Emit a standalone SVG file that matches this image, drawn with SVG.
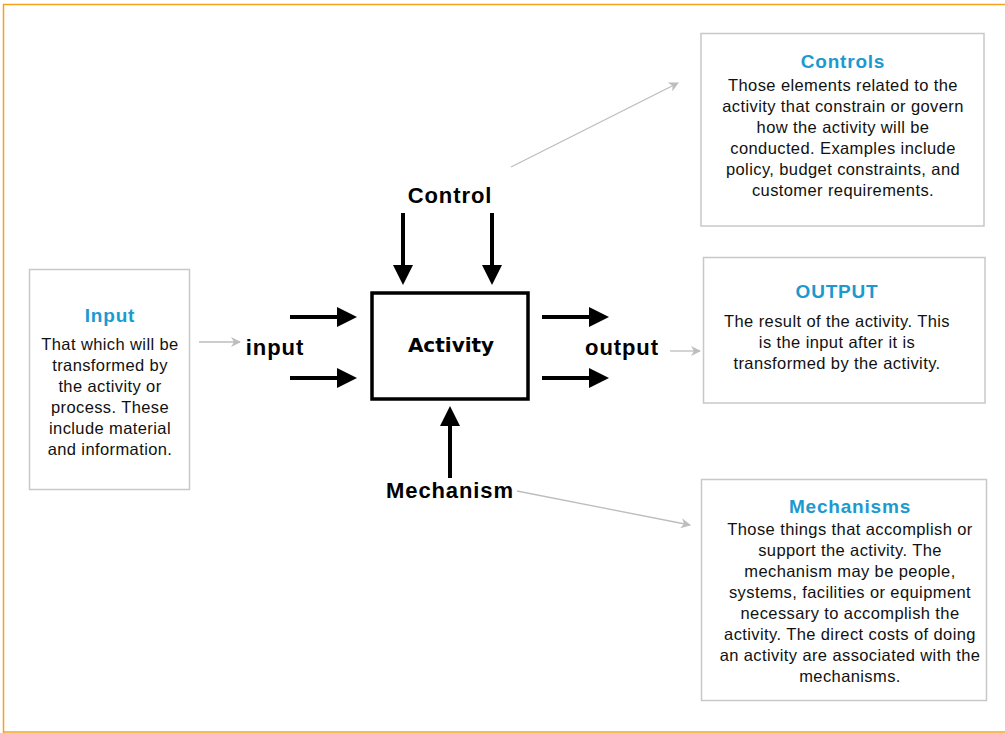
<svg xmlns="http://www.w3.org/2000/svg" width="1005" height="733" viewBox="0 0 1005 733">
<style>
.box{fill:#fff;stroke:#c8c8c8;stroke-width:1.5}
.ttl{font-family:"Liberation Sans",Arial,sans-serif;font-weight:bold;font-size:19px;letter-spacing:0.8px;fill:#1b9ad0;text-anchor:middle}
.body{font-family:"Liberation Sans",Arial,sans-serif;font-size:16.5px;letter-spacing:0.4px;fill:#111;text-anchor:middle}
.lbl{font-family:"Liberation Sans",Arial,sans-serif;font-weight:bold;font-size:22px;letter-spacing:0.9px;fill:#000;text-anchor:middle}
.blk{stroke:#000;stroke-width:4;fill:none}
.gry{stroke:#bdbdbd;stroke-width:1.3;fill:none}
</style>
<defs>
<marker id="bh" markerWidth="5" markerHeight="5" refX="0" refY="2.5" orient="auto" markerUnits="strokeWidth" viewBox="0 0 5 5">
<path d="M0,0 L5,2.5 L0,5 Z" fill="#000"/>
</marker>
<marker id="gh" markerWidth="10" markerHeight="10" refX="9" refY="5" orient="auto" markerUnits="userSpaceOnUse" viewBox="0 0 10 10">
<path d="M0,0 L10,5 L0,10 L3,5 Z" fill="#bdbdbd"/>
</marker>
</defs>
<rect x="0" y="0" width="1005" height="733" fill="#fff"/>
<path d="M3.5,733 V4.5 H1005 M3.5,732 H1005" fill="none" stroke="#f7a21b" stroke-width="1.5"/>

<g id="activity">
<rect x="372" y="293" width="156" height="106" fill="#fff" stroke="#000" stroke-width="3.5"/>
<text x="451" y="352" font-family="'DejaVu Sans',sans-serif" font-weight="bold" font-size="20" text-anchor="middle">Activity</text>
</g>

<g id="connectors">
<line class="blk" x1="290" y1="317" x2="337" y2="317" marker-end="url(#bh)"/>
<line class="blk" x1="290" y1="378" x2="337" y2="378" marker-end="url(#bh)"/>
<line class="blk" x1="542" y1="317" x2="589" y2="317" marker-end="url(#bh)"/>
<line class="blk" x1="542" y1="378" x2="589" y2="378" marker-end="url(#bh)"/>
<line class="blk" x1="403" y1="213" x2="403" y2="265" marker-end="url(#bh)"/>
<line class="blk" x1="492" y1="213" x2="492" y2="265" marker-end="url(#bh)"/>
<line class="blk" x1="450" y1="478" x2="450" y2="426" marker-end="url(#bh)"/>
<line class="gry" x1="511" y1="167" x2="678" y2="83" marker-end="url(#gh)"/>
<line class="gry" x1="199" y1="342" x2="240" y2="342" marker-end="url(#gh)"/>
<line class="gry" x1="670" y1="351" x2="700" y2="351" marker-end="url(#gh)"/>
<line class="gry" x1="517" y1="491" x2="690" y2="525" marker-end="url(#gh)"/>
</g>

<g id="label-control"><text class="lbl" x="450" y="203">Control</text></g>
<g id="label-input"><text class="lbl" x="275" y="355">input</text></g>
<g id="label-output"><text class="lbl" x="622" y="355">output</text></g>
<g id="label-mechanism"><text class="lbl" x="450" y="498">Mechanism</text></g>

<g id="input-box">
<rect class="box" x="29.5" y="269.5" width="160" height="220"/>
<text class="ttl" x="110" y="322">Input</text>
<text class="body" x="110" y="350">That which will be</text>
<text class="body" x="110" y="371">transformed by</text>
<text class="body" x="110" y="392">the activity or</text>
<text class="body" x="110" y="413">process. These</text>
<text class="body" x="110" y="434">include material</text>
<text class="body" x="110" y="455">and information.</text>
</g>

<g id="controls-box">
<rect class="box" x="701" y="33.5" width="283" height="192.5"/>
<text class="ttl" x="843" y="68">Controls</text>
<text class="body" x="843" y="91">Those elements related to the</text>
<text class="body" x="843" y="112">activity that constrain or govern</text>
<text class="body" x="843" y="133">how the activity will be</text>
<text class="body" x="843" y="154">conducted. Examples include</text>
<text class="body" x="843" y="175">policy, budget constraints, and</text>
<text class="body" x="843" y="196">customer requirements.</text>
</g>

<g id="output-box">
<rect class="box" x="703.5" y="257.5" width="281.5" height="145.5"/>
<text class="ttl" x="837" y="298">OUTPUT</text>
<text class="body" x="837" y="327">The result of the activity. This</text>
<text class="body" x="837" y="348">is the input after it is</text>
<text class="body" x="837" y="369">transformed by the activity.</text>
</g>

<g id="mechanisms-box">
<rect class="box" x="701.5" y="479.5" width="285" height="221"/>
<text class="ttl" x="850" y="513">Mechanisms</text>
<text class="body" x="850" y="535">Those things that accomplish or</text>
<text class="body" x="850" y="556">support the activity. The</text>
<text class="body" x="850" y="577">mechanism may be people,</text>
<text class="body" x="850" y="598">systems, facilities or equipment</text>
<text class="body" x="850" y="619">necessary to accomplish the</text>
<text class="body" x="850" y="640">activity. The direct costs of doing</text>
<text class="body" x="850" y="661">an activity are associated with the</text>
<text class="body" x="850" y="682">mechanisms.</text>
</g>
</svg>
